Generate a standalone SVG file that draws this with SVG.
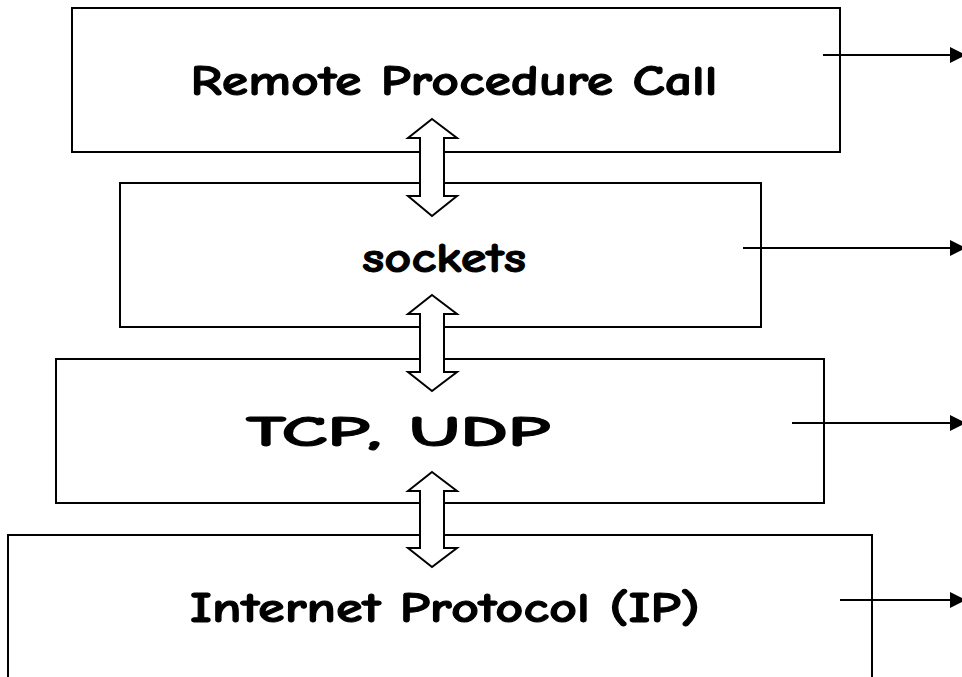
<svg xmlns="http://www.w3.org/2000/svg" width="962" height="677" viewBox="0 0 962 677">
<style>
.box{fill:#fff;stroke:#000;stroke-width:2}
.lbl{font-family:"Comic Neue","DejaVu Sans",sans-serif;font-weight:bold;font-size:43px;fill:#000;text-anchor:middle;stroke:#000;stroke-width:1}
.dbl{fill:#fff;stroke:#000;stroke-width:2;stroke-linejoin:miter}
.con{stroke:#000;stroke-width:2;fill:none;marker-end:url(#ah)}
</style>
<defs>
<marker id="ah" markerWidth="8" markerHeight="8" refX="7" refY="4" orient="auto" markerUnits="strokeWidth">
<path d="M0,0 L8,4 L0,8 Z" fill="#000"/>
</marker>
</defs>
<g id="rpc"><rect class="box" x="72" y="8" width="768" height="144"/><text class="lbl" x="454" y="95" textLength="527" lengthAdjust="spacingAndGlyphs">Remote Procedure Call</text></g>
<g id="sockets"><rect class="box" x="120" y="183" width="641" height="144"/><text class="lbl" x="444" y="272" textLength="164" lengthAdjust="spacingAndGlyphs">sockets</text></g>
<g id="tcpudp"><rect class="box" x="56" y="359" width="768" height="144"/><text class="lbl" x="398" y="446" textLength="304" lengthAdjust="spacingAndGlyphs">TCP, UDP</text></g>
<g id="ip"><rect class="box" x="8" y="535" width="864" height="160"/><text class="lbl" x="445" y="622" textLength="510" lengthAdjust="spacingAndGlyphs">Internet Protocol (IP)</text></g>
<g id="connectors">
<polygon class="dbl" points="432,119 457,138 444,138 444,196 457,196 432,216 408,196 420,196 420,138 408,138"/>
<polygon class="dbl" points="432,295 457,314 444,314 444,372 457,372 432,391 408,372 420,372 420,314 408,314"/>
<polygon class="dbl" points="432,472 457,491 444,491 444,548 457,548 432,567 408,548 420,548 420,491 408,491"/>
<line class="con" x1="823" y1="55" x2="964" y2="55"/>
<line class="con" x1="743" y1="248" x2="964" y2="248"/>
<line class="con" x1="792" y1="423" x2="964" y2="423"/>
<line class="con" x1="840" y1="600" x2="964" y2="600"/>
</g>
</svg>
